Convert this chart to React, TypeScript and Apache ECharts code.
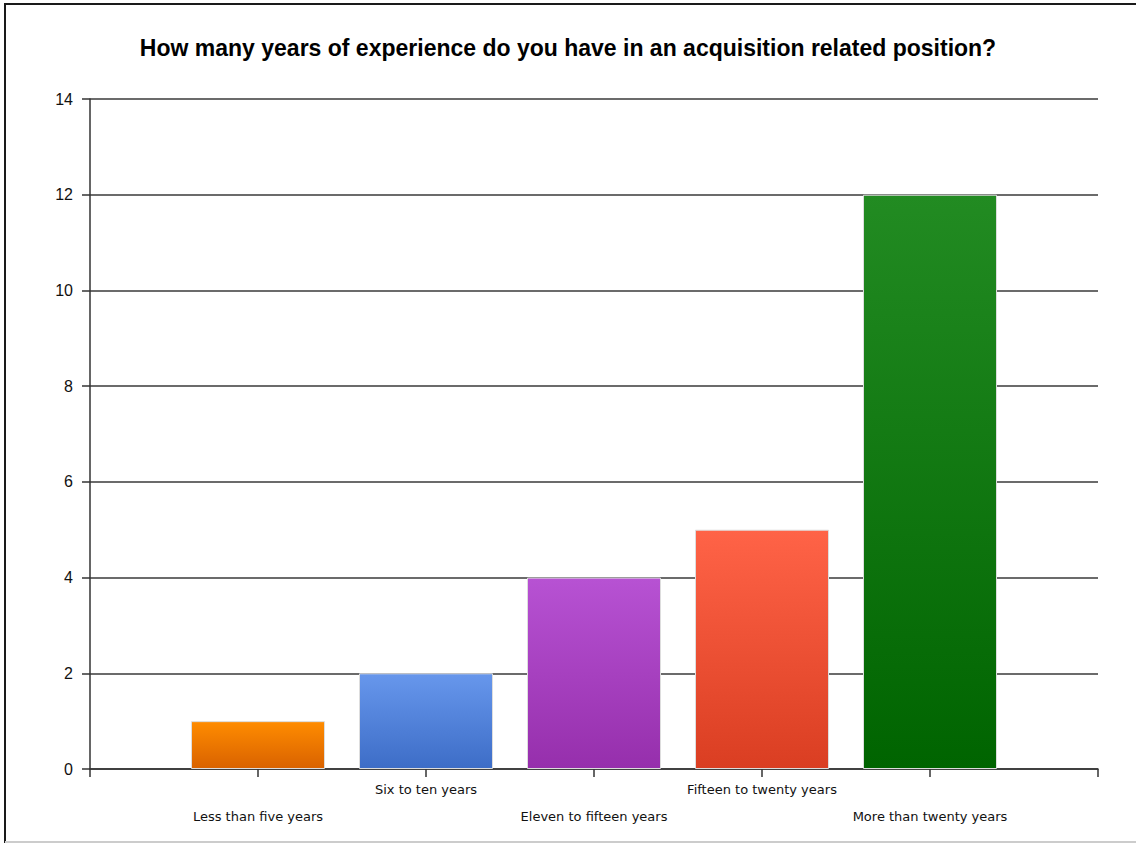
import React, { useEffect, useRef } from "react";
import * as echarts from "echarts";

const titleText = "How many years of experience do you have in an acquisition related position?";
const categories = [
  "",
  "Less than five years",
  "Six to ten years",
  "Eleven to fifteen years",
  "Fifteen to twenty years",
  "More than twenty years",
  "",
];
const values: (number | string)[] = ["-", 1, 2, 4, 5, 12, "-"];
const topColors = ["", "#FF8C00", "#6797EC", "#B752D3", "#FF6347", "#228B22", ""];
const bottomColors = ["", "#D96200", "#3D6DC7", "#962FAC", "#DA3E22", "#006400", ""];
const yTicks = { min: 0, max: 14, interval: 2 };

export default function App() {
  const ref = useRef<HTMLDivElement>(null);
  useEffect(() => {
    if (!ref.current) return;
    const chart = echarts.init(ref.current, null, { renderer: "svg" });
    const data = values.map((v, i) =>
      v === "-"
        ? "-"
        : {
            value: v,
            itemStyle: {
              color: new echarts.graphic.LinearGradient(0, 0, 0, 1, [
                { offset: 0, color: topColors[i] },
                { offset: 1, color: bottomColors[i] },
              ]),
            },
          }
    );
    chart.setOption({
      animation: false,
      backgroundColor: "#ffffff",
      title: {
        text: titleText,
        left: "center",
        top: 31,
        textStyle: {
          fontFamily: "Liberation Sans",
          fontWeight: "bold",
          fontSize: 23,
          color: "#000",
        },
      },
      graphic: [
        {
          type: "rect",
          shape: { x: 5, y: 4, width: 1140, height: 838 },
          style: { fill: "none", stroke: "#1a1a1a", lineWidth: 2 },
          z: 100,
        },
        {
          type: "line",
          shape: { x1: 5, y1: 842, x2: 1136, y2: 842 },
          style: { stroke: "#cccccc", lineWidth: 2 },
          z: 101,
        },
      ],
      grid: { left: 90, right: 38, top: 99, bottom: 74, containLabel: false },
      xAxis: {
        type: "category",
        data: categories,
        boundaryGap: false,
        axisLine: { show: true, lineStyle: { color: "#333", width: 1.5 } },
        axisTick: { show: true, length: 8, interval: 0, lineStyle: { color: "#333", width: 1.5 } },
        axisLabel: {
          interval: 0,
          margin: 12,
          fontFamily: "DejaVu Sans",
          fontSize: 13,
          color: "#111",
          formatter: (val: string, idx: number) =>
            val === "" ? "" : idx % 2 === 1 ? `{lo|${val}}` : `{hi|${val}}`,
          rich: {
            hi: { fontFamily: "DejaVu Sans", fontSize: 13, color: "#111", lineHeight: 16 },
            lo: {
              fontFamily: "DejaVu Sans",
              fontSize: 13,
              color: "#111",
              lineHeight: 16,
              padding: [54, 0, 0, 0],
            },
          },
        },
        splitLine: { show: false },
      },
      yAxis: {
        type: "value",
        min: yTicks.min,
        max: yTicks.max,
        interval: yTicks.interval,
        axisLine: { show: true, lineStyle: { color: "#333", width: 1.5 } },
        axisTick: { show: true, length: 8, lineStyle: { color: "#333", width: 1.5 } },
        axisLabel: {
          margin: 17,
          fontFamily: "Liberation Sans",
          fontSize: 16,
          color: "#111",
        },
        splitLine: { show: true, lineStyle: { color: "#3a3a3a", width: 1.5 } },
      },
      series: [
        {
          type: "bar",
          data,
          barWidth: 134,
          itemStyle: { borderColor: "#dddddd", borderWidth: 1 },
        },
      ],
    });
    return () => chart.dispose();
  }, []);
  return (
    <div
      ref={ref}
      style={{ position: "fixed", left: 0, top: 0, width: 1136, height: 843 }}
    />
  );
}
